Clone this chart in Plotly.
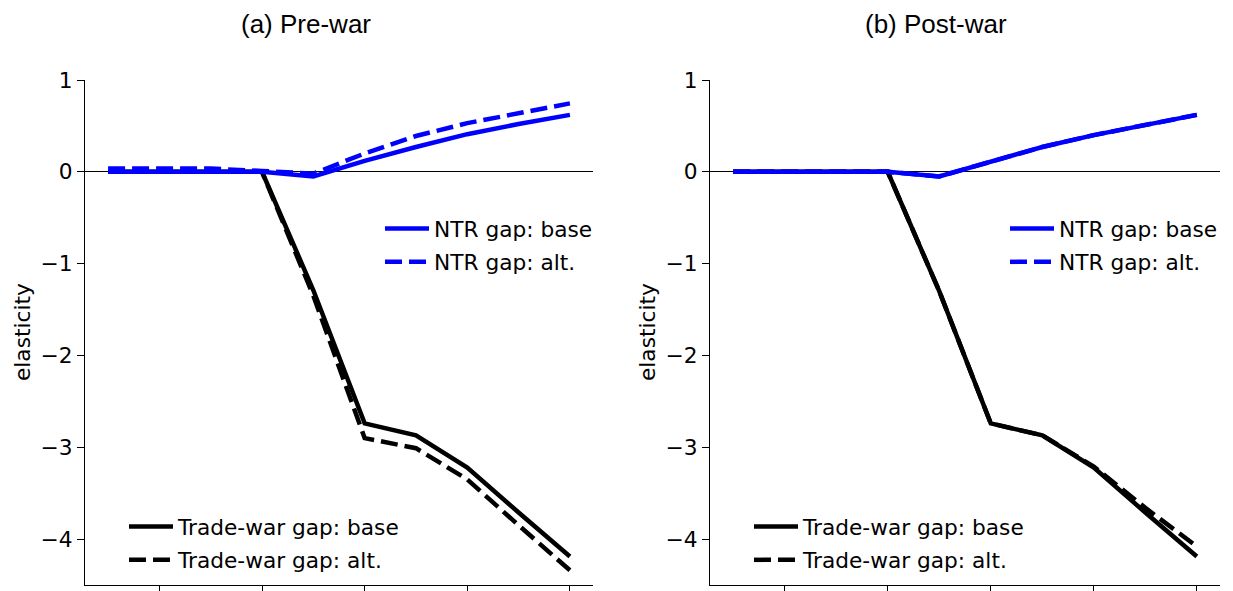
import plotly.graph_objects as go

# The page body has an 8px margin; the figure is sized/positioned to compensate.
OFF = 8
W, H = 1233 - OFF, 591 - OFF

# ---- data ----
steps = [1, 2, 3, 4, 5, 6, 7, 8, 9, 10]
tick_vals = [2, 4, 6, 8, 10]

pre_ntr_base = [0.0, 0.0, 0.0, 0.0, -0.05, 0.12, 0.27, 0.41, 0.52, 0.62]
pre_ntr_alt = [0.035, 0.035, 0.035, 0.01, -0.02, 0.20, 0.39, 0.53, 0.64, 0.745]
pre_tw_base = [0.0, 0.0, 0.0, 0.0, -1.29, -2.74, -2.87, -3.22, -3.71, -4.19]
pre_tw_alt = [0.0, 0.0, 0.0, 0.0, -1.35, -2.90, -3.01, -3.35, -3.85, -4.34]

post_ntr_base = [0.0, 0.0, 0.0, 0.0, -0.05, 0.11, 0.27, 0.40, 0.51, 0.62]
post_ntr_alt = [0.0, 0.0, 0.0, 0.0, -0.05, 0.11, 0.27, 0.40, 0.51, 0.62]
post_tw_base = [0.0, 0.0, 0.0, 0.0, -1.30, -2.74, -2.87, -3.22, -3.71, -4.19]
post_tw_alt = [0.0, 0.0, 0.0, 0.0, -1.30, -2.74, -2.87, -3.21, -3.66, -4.08]

titles = ["(a) Pre-war", "(b) Post-war"]
ntr_names = ["NTR gap: base", "NTR gap: alt."]
tw_names = ["Trade-war gap: base", "Trade-war gap: alt."]
y_label = "elasticity"

BLUE = "#0000ff"
BLACK = "#000000"
LW = 4.5
DASH = "17px,7px"
FS = 21.7
TICKFONT = dict(family="DejaVu Sans", size=FS, color="black")


def px(x):
    return (x - OFF) / W


def py(y):
    return 1 - (y - OFF) / H


fig = go.Figure()

panels = [
    ("x", "y", pre_ntr_base, pre_ntr_alt, pre_tw_base, pre_tw_alt, "legend", "legend2"),
    ("x2", "y2", post_ntr_base, post_ntr_alt, post_tw_base, post_tw_alt, "legend3", "legend4"),
]

for xa, ya, nb, na, tb, ta, lg_ntr, lg_tw in panels:
    fig.add_trace(go.Scatter(x=steps, y=tb, mode="lines", name=tw_names[0], xaxis=xa, yaxis=ya,
                             line=dict(color=BLACK, width=LW), legend=lg_tw,
                             legendgroup=xa + "tb", legendrank=1))
    fig.add_trace(go.Scatter(x=steps, y=ta, mode="lines", name=tw_names[1], xaxis=xa, yaxis=ya,
                             line=dict(color=BLACK, width=LW, dash=DASH), legend=lg_tw,
                             legendgroup=xa + "ta", legendrank=2))
    fig.add_trace(go.Scatter(x=steps, y=na, mode="lines", name=ntr_names[1], xaxis=xa, yaxis=ya,
                             line=dict(color=BLUE, width=LW, dash=DASH), legend=lg_ntr,
                             legendgroup=xa + "na", legendrank=2))
    fig.add_trace(go.Scatter(x=steps, y=nb, mode="lines", name=ntr_names[0], xaxis=xa, yaxis=ya,
                             line=dict(color=BLUE, width=LW), legend=lg_ntr,
                             legendgroup=xa + "nb", legendrank=1))

y_top, y_bot = 80, 585
x_doms = [(85, 593), (710, 1220)]
xrange_ = [0.55, 10.45]
yrange_ = [-4.5, 1.0]

axis_common = dict(showline=True, linecolor="black", linewidth=1.3, ticks="outside",
                   ticklen=7, tickwidth=1.3, tickcolor="black", showgrid=False,
                   automargin=False)

for i, (x0, x1) in enumerate(x_doms):
    sfx = "" if i == 0 else str(i + 1)
    fig.update_layout(**{
        "xaxis" + sfx: dict(domain=[px(x0), min(1.0, px(x1))], range=xrange_, tickvals=tick_vals,
                            showticklabels=False, zeroline=False,
                            anchor="y" + sfx, **axis_common),
        "yaxis" + sfx: dict(domain=[max(0.0, py(y_bot)), py(y_top)], range=yrange_,
                            tickvals=[-4, -3, -2, -1, 0, 1], tickfont=TICKFONT,
                            zeroline=True, zerolinecolor="black", zerolinewidth=1,
                            anchor="x" + sfx, **axis_common),
    })

legend_common = dict(bgcolor="rgba(0,0,0,0)", borderwidth=0,
                     font=dict(family="DejaVu Sans", size=FS, color="black"),
                     itemwidth=44, traceorder="grouped", tracegroupgap=2,
                     xanchor="left", yanchor="top")

fig.update_layout(
    legend=dict(x=px(380), y=py(208), **legend_common),
    legend2=dict(x=px(124), y=py(506), **legend_common),
    legend3=dict(x=px(1005), y=py(208), **legend_common),
    legend4=dict(x=px(749), y=py(506), **legend_common),
)

annotations = []
for t, cx in zip(titles, [305.5, 935.5]):
    annotations.append(dict(text=t, x=px(cx), y=py(24), xref="paper", yref="paper",
                            xanchor="center", yanchor="middle", showarrow=False,
                            font=dict(family="Liberation Sans", size=26, color="black")))
for cx in [22, 647]:
    annotations.append(dict(text=y_label, x=px(cx), y=py(332), xref="paper", yref="paper",
                            xanchor="center", yanchor="middle", showarrow=False, textangle=-90,
                            font=dict(family="DejaVu Sans", size=FS, color="black")))

fig.update_layout(
    width=W, height=H,
    margin=dict(l=0, r=0, t=0, b=0),
    paper_bgcolor="white", plot_bgcolor="white",
    annotations=annotations,
    showlegend=True,
)

fig.write_html("out.html")
